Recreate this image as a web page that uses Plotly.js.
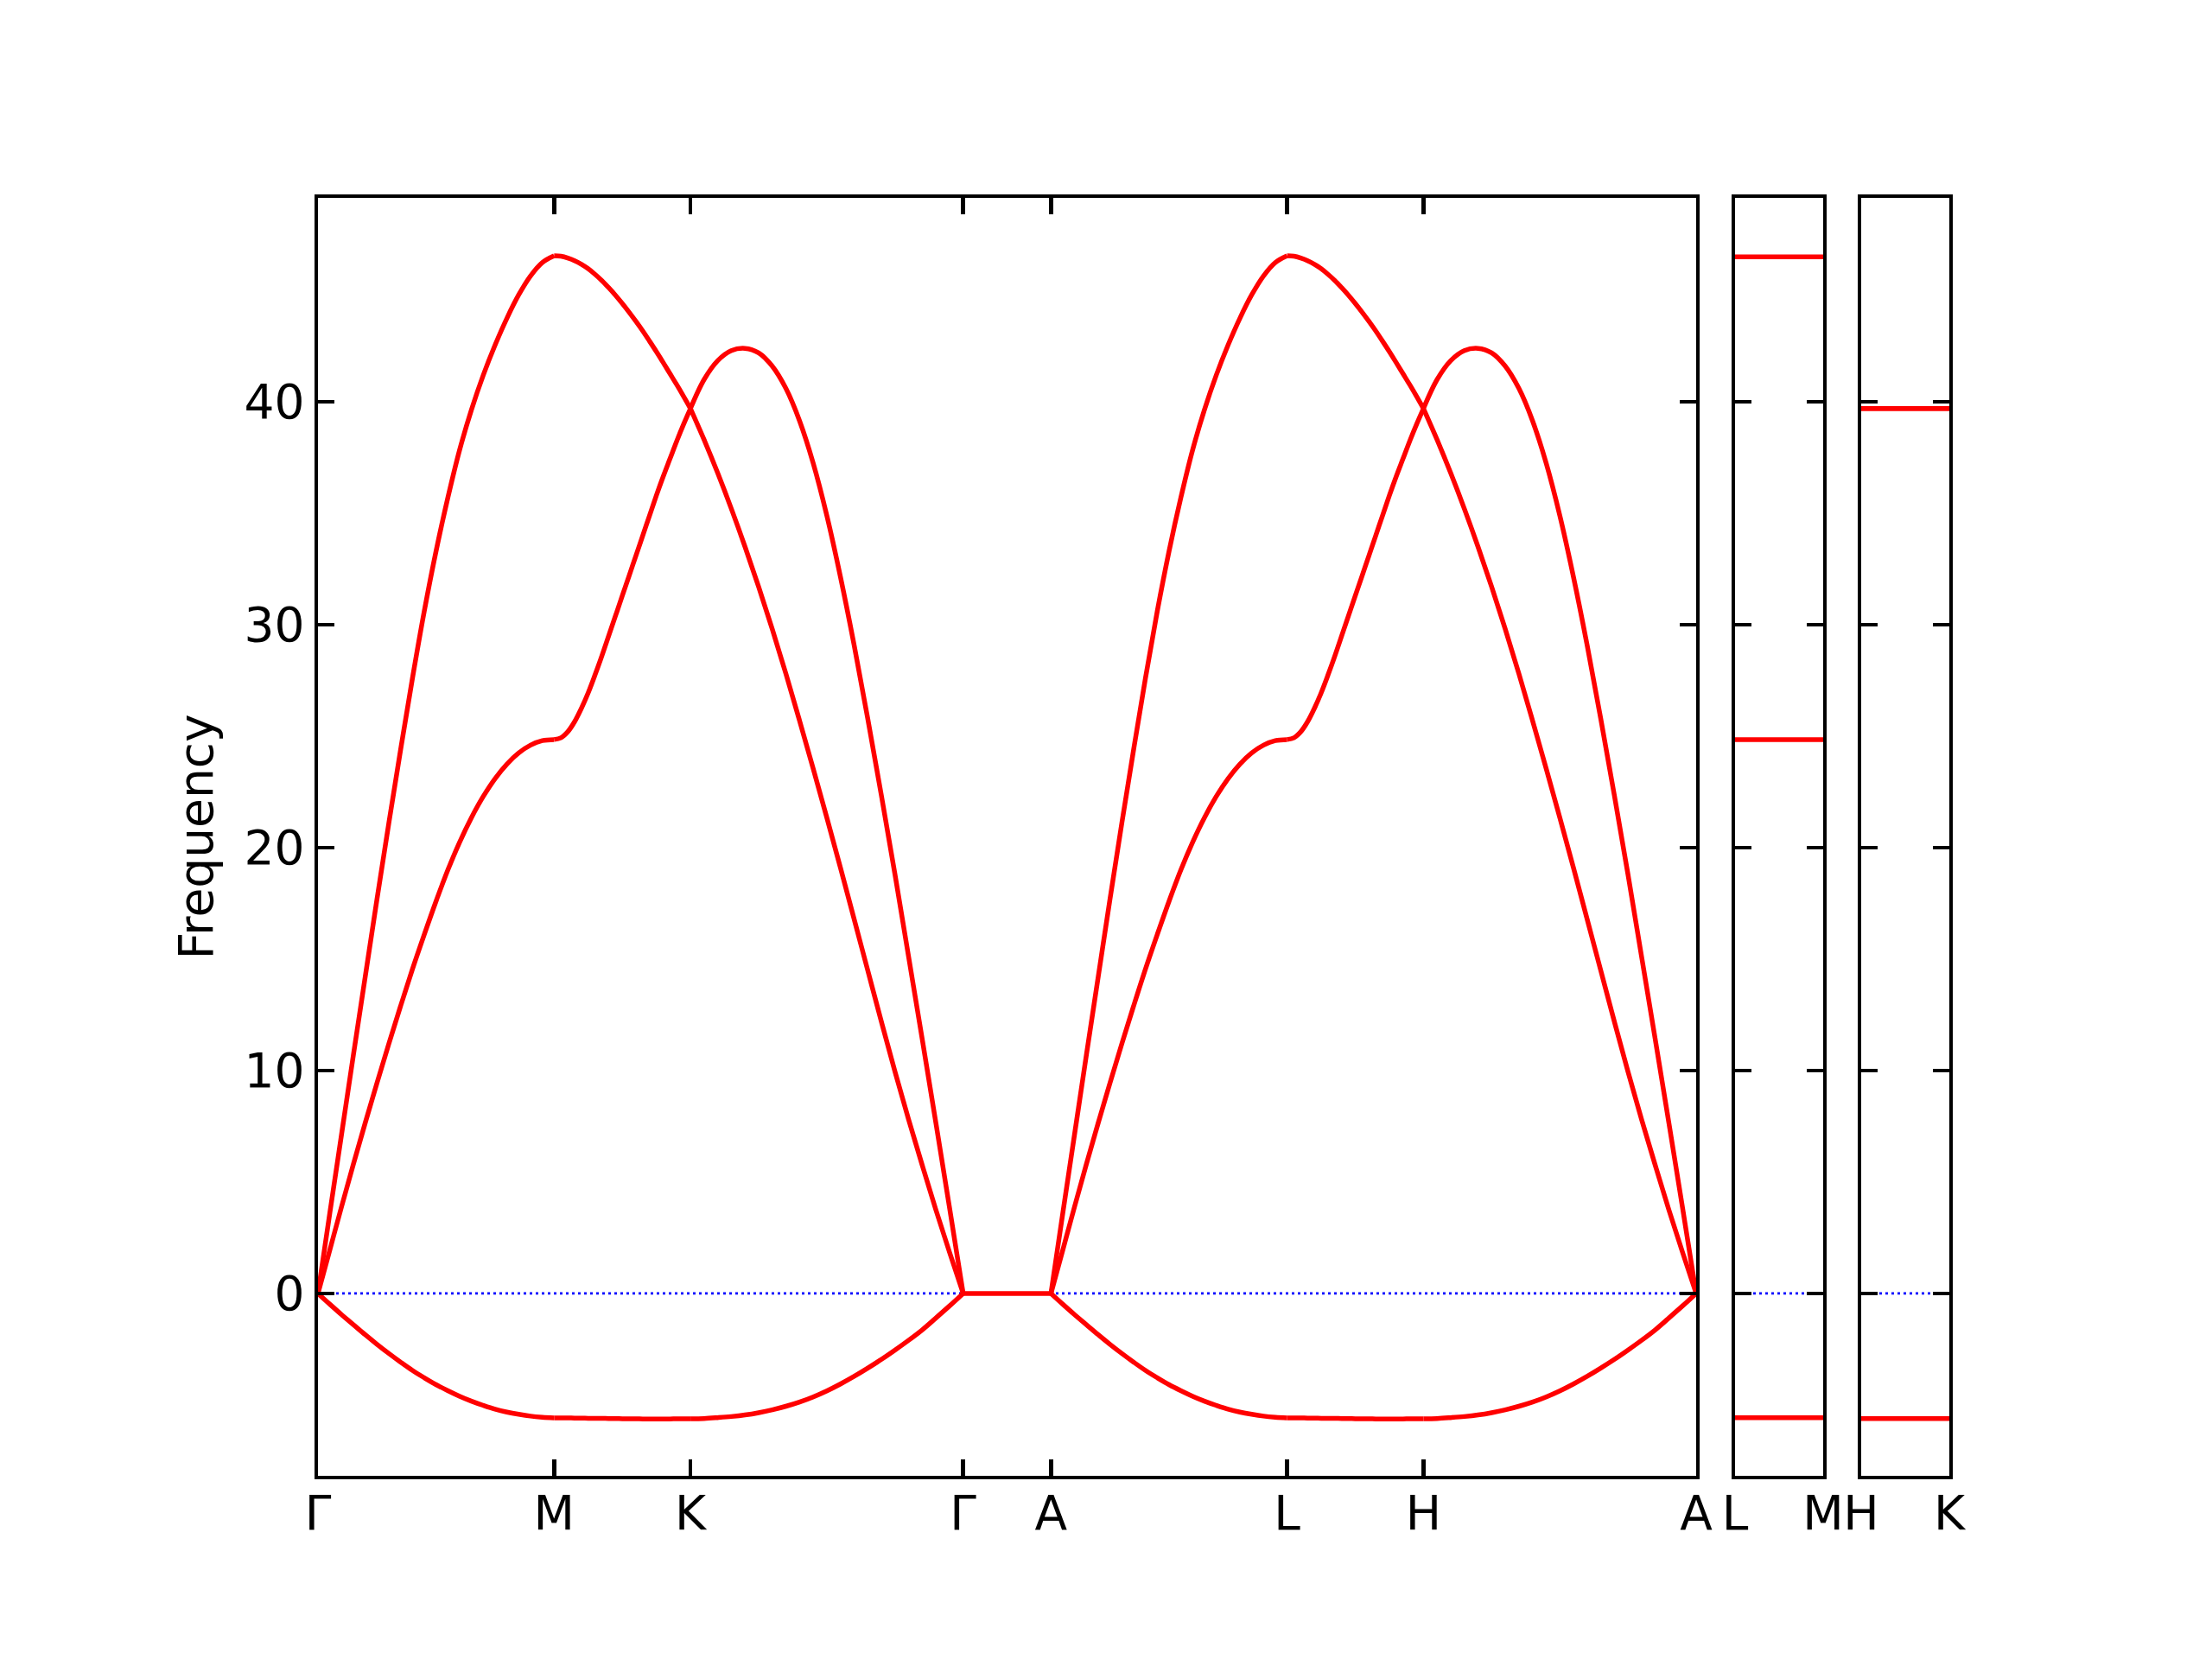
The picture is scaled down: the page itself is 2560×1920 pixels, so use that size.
<!DOCTYPE html>
<html>
<head>
<meta charset="utf-8">
<script src="https://cdn.plot.ly/plotly-3.0.1.min.js"></script>
<style>html,body{margin:0;padding:0;background:#fff}#plot{width:2560px;height:1920px}</style>
</head>
<body>
<div id="plot"></div>
<script>
// high-symmetry points along the main path
const kLabels = ['Γ', 'M', 'K', 'Γ', 'A', 'L', 'H', 'A'];
const kPos = [0, 0.5774, 0.9107, 1.5774, 1.7921, 2.3695, 2.7028, 3.3695];

// Γ→M (and A→L): fraction along segment and band values
const fracGM = [0,0.05,0.1,0.15,0.2,0.25,0.3,0.35,0.4,0.45,0.5,0.55,0.6,0.65,0.7,0.75,0.8,0.85,0.9,0.95,1];
const band1GM = [0,-0.48,-0.95,-1.4,-1.85,-2.28,-2.69,-3.08,-3.45,-3.78,-4.09,-4.36,-4.61,-4.83,-5.02,-5.19,-5.32,-5.42,-5.5,-5.55,-5.58];
const band2GM = [0,1.95,3.9,5.8,7.65,9.45,11.2,12.9,14.55,16.1,17.6,19.0,20.25,21.35,22.3,23.1,23.75,24.25,24.6,24.8,24.85];
const band3GM = [0,3.6,7.15,10.7,14.2,17.7,21.1,24.4,27.6,30.6,33.3,35.7,37.85,39.65,41.2,42.55,43.75,44.8,45.65,46.25,46.55];

// M→K (and L→H)
const fracMK = [0,0.05,0.1,0.15,0.2,0.25,0.3,0.35,0.4,0.45,0.5,0.55,0.6,0.65,0.7,0.75,0.8,0.85,0.9,0.95,1];
const band1MK = [-5.58,-5.58,-5.58,-5.59,-5.59,-5.6,-5.6,-5.6,-5.61,-5.61,-5.62,-5.62,-5.62,-5.63,-5.63,-5.63,-5.63,-5.63,-5.62,-5.62,-5.62];
const band2MK = [24.85,24.93,25.2,25.65,26.25,26.95,27.75,28.6,29.5,30.4,31.3,32.2,33.1,34.0,34.9,35.8,36.65,37.45,38.25,39.0,39.7];
const band3MK = [46.55,46.53,46.45,46.33,46.17,45.97,45.72,45.44,45.12,44.78,44.41,44.02,43.61,43.18,42.72,42.25,41.76,41.26,40.76,40.24,39.7];

// K→Γ (and H→A)
const fracKG = [0,0.05,0.1,0.15,0.2,0.25,0.3,0.35,0.4,0.45,0.5,0.55,0.6,0.65,0.7,0.75,0.8,0.85,0.9,0.95,1];
const band1KG = [-5.62,-5.61,-5.57,-5.52,-5.45,-5.35,-5.22,-5.06,-4.87,-4.64,-4.37,-4.06,-3.72,-3.35,-2.96,-2.54,-2.1,-1.63,-1.1,-0.56,0];
const band2KG = [39.7,41.0,41.85,42.3,42.4,42.2,41.6,40.6,39.15,37.25,34.9,32.15,29.1,25.8,22.35,18.8,15.1,11.4,7.65,3.85,0];
const band3KG = [39.7,38.3,36.8,35.2,33.5,31.7,29.8,27.8,25.7,23.55,21.35,19.1,16.8,14.5,12.2,9.95,7.8,5.75,3.75,1.85,0];

// Γ→A: all branches at zero
const bandGA = [0, 0];

// side panels
const lmLabels = ['L', 'M'];
const lmBands = [-5.57, 24.85, 46.5];
const hkLabels = ['H', 'K'];
const hkBands = [-5.61, 39.7, 39.7];
const sideLen = 0.2147;

const yTicks = [0, 10, 20, 30, 40];
const yRange = [-8.18, 49.15];

const red = '#ff0000';
const traces = [];
// blue dotted zero lines
[['x','y',[0,kPos[7]]],['x2','y2',[0,sideLen]],['x3','y3',[0,sideLen]]].forEach(p => {
  traces.push({x: p[2], y: [0, 0], xaxis: p[0], yaxis: p[1], mode: 'lines',
    line: {color: '#0000ff', width: 2.8, dash: '3px,4px'}, hoverinfo: 'skip', showlegend: false});
});

function addSegment(frac, vals, a, b) {
  traces.push({x: frac.map(f => a + f * (b - a)), y: vals, xaxis: 'x', yaxis: 'y', mode: 'lines',
    line: {color: red, width: 5.5, shape: 'spline', smoothing: 1, simplify: false}, showlegend: false});
}
const bands = [[band1GM,band1MK,band1KG],[band2GM,band2MK,band2KG],[band3GM,band3MK,band3KG]];
const fracs = [fracGM, fracMK, fracKG];
bands.forEach(b => {
  [0, 4].forEach(start => {
    for (let i = 0; i < 3; i++) addSegment(fracs[i], b[i], kPos[start + i], kPos[start + i + 1]);
  });
});
traces.push({x: [kPos[3], kPos[4]], y: bandGA, xaxis: 'x', yaxis: 'y', mode: 'lines',
  line: {color: red, width: 5.5}, showlegend: false});

lmBands.forEach(v => traces.push({x: [0, sideLen], y: [v, v], xaxis: 'x2', yaxis: 'y2', mode: 'lines',
  line: {color: red, width: 5.5}, showlegend: false}));
hkBands.forEach(v => traces.push({x: [0, sideLen], y: [v, v], xaxis: 'x3', yaxis: 'y3', mode: 'lines',
  line: {color: red, width: 5.5}, showlegend: false}));

const font = {family: 'DejaVu Sans', size: 55, color: '#000'};
const axBase = {showline: true, linecolor: '#000', linewidth: 4.4, mirror: 'ticks', ticks: 'inside',
  ticklen: 19, tickwidth: 4.4, tickcolor: '#000', showgrid: false, zeroline: false, tickfont: font,
  fixedrange: true};

const W = 1888;
const layout = {
  width: 2560, height: 1920,
  margin: {l: 368, r: 304, t: 229, b: 212},
  paper_bgcolor: '#fff', plot_bgcolor: '#fff',
  font: font,
  showlegend: false,
  xaxis: Object.assign({}, axBase, {domain: [0, 1595 / W], range: [0, kPos[7]],
    tickmode: 'array', tickvals: kPos, ticktext: kLabels, anchor: 'y', ticklabelstandoff: -8}),
  yaxis: Object.assign({}, axBase, {domain: [0, 1], range: yRange, tickmode: 'array', tickvals: yTicks,
    ticktext: yTicks.map(String), anchor: 'x',
    title: {text: 'Frequency', font: font, standoff: 20}}),
  xaxis2: Object.assign({}, axBase, {domain: [1640 / W, 1742 / W], range: [0, sideLen],
    tickmode: 'array', tickvals: [0, sideLen], ticktext: lmLabels, anchor: 'y2', ticklabelstandoff: -8}),
  yaxis2: Object.assign({}, axBase, {domain: [0, 1], range: yRange, tickmode: 'array', tickvals: yTicks,
    showticklabels: false, anchor: 'x2'}),
  xaxis3: Object.assign({}, axBase, {domain: [1786 / W, 1], range: [0, sideLen],
    tickmode: 'array', tickvals: [0, sideLen], ticktext: hkLabels, anchor: 'y3', ticklabelstandoff: -8}),
  yaxis3: Object.assign({}, axBase, {domain: [0, 1], range: yRange, tickmode: 'array', tickvals: yTicks,
    showticklabels: false, anchor: 'x3'})
};

Plotly.newPlot('plot', traces, layout, {displayModeBar: false, staticPlot: true});
</script>
</body>
</html>
